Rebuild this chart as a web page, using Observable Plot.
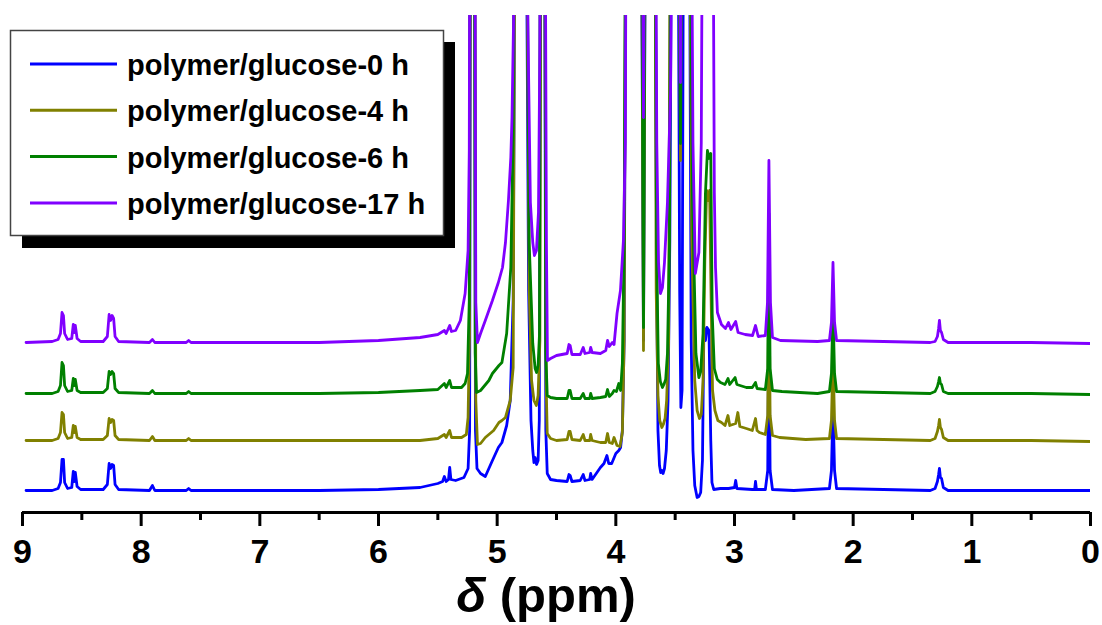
<!DOCTYPE html>
<html><head><meta charset="utf-8">
<script src="https://cdn.jsdelivr.net/npm/d3@7"></script>
<script src="https://cdn.jsdelivr.net/npm/@observablehq/plot@0.6"></script>
<style>body{margin:0;background:#fff;} #chart{width:1102px;height:625px;}</style>
</head><body><div id="chart"></div><script>
// Series metadata
const seriesNames = ["polymer/glucose-0 h", "polymer/glucose-4 h", "polymer/glucose-6 h", "polymer/glucose-17 h"];
const seriesColors = ["#0000FF", "#808000", "#008000", "#8000FF"];
const seriesOffsets = [22, 72, 119, 170]; // vertical stacking offset of each spectrum (intensity units)
const majorTicks = [9, 8, 7, 6, 5, 4, 3, 2, 1, 0];
const minorTicks = [8.5, 7.5, 6.5, 5.5, 4.5, 3.5, 2.5, 1.5, 0.5];

// Spectra: [chemical shift (ppm), intensity above own baseline]; 600 = off scale
const blue = [
[8.97,0],[8.75,0],[8.70,2],[8.68,8],[8.667,31],[8.655,31],[8.645,8],[8.62,2],[8.585,3],[8.572,19],[8.563,9],[8.555,18],[8.54,4],[8.51,1],
[8.32,1],[8.285,6],[8.27,27],[8.258,22],[8.245,26],[8.232,25],[8.22,6],[8.19,1],
[7.93,0],[7.905,5],[7.885,0],[7.62,0],[7.60,2],[7.58,0],
[6.5,0],[6.0,1],[5.65,3],[5.50,7],[5.46,9],[5.445,14],[5.43,9],[5.41,11],[5.40,23],[5.39,11],[5.35,10],[5.28,13],[5.245,22],[5.232,60],[5.225,600],
[5.19,600],[5.183,60],[5.17,22],[5.14,17],[5.10,14],[5.04,30],[4.99,43],[4.96,48],[4.92,65],[4.89,90],[4.865,190],[4.85,600],
[4.755,600],[4.735,200],[4.715,70],[4.70,40],[4.69,28],[4.68,33],[4.668,26],[4.655,30],[4.645,70],[4.635,600],
[4.60,600],[4.59,60],[4.578,17],[4.55,11],[4.50,10],[4.41,9],[4.395,16],[4.385,15],[4.37,9],[4.30,10],[4.275,16],[4.26,10],[4.22,11],[4.212,17],[4.20,11],[4.13,23],[4.10,27],[4.075,35],[4.06,27],[4.035,27],[4.00,37],[3.975,40],[3.96,43],[3.945,60],[3.93,150],[3.915,600],
[3.785,600],[3.767,150],[3.75,600],
[3.67,600],[3.655,200],[3.645,60],[3.632,25],[3.622,18],[3.612,20],[3.602,17],[3.59,22],[3.575,40],[3.56,90],[3.545,250],[3.53,600],
[3.475,600],[3.462,200],[3.452,83],[3.442,100],[3.43,600],
[3.38,600],[3.365,150],[3.35,40],[3.335,5],[3.315,-7],[3.30,-6],[3.285,-2],[3.27,30],[3.258,163],[3.245,150],[3.232,163],[3.215,160],[3.20,50],[3.19,8],[3.175,1],[3.12,2],[3.05,2],[3.00,3],[2.99,10],[2.98,2],[2.85,1],[2.83,1],[2.823,9],[2.815,1],[2.74,1],[2.72,20],[2.71,180],[2.70,20],[2.68,1],[2.50,0],
[2.2,2],[2.183,20],[2.17,85],[2.157,20],[2.14,2],
[1.35,0],[1.31,2],[1.29,9],[1.28,16],[1.273,22],[1.265,13],[1.255,12],[1.24,3],[1.20,0],[0.5,0],[0,0]
];
const olive = [
[8.97,0],[8.75,0],[8.70,2],[8.68,8],[8.667,28],[8.655,26],[8.645,8],[8.62,2],[8.585,3],[8.572,15],[8.563,8],[8.555,14],[8.54,3],[8.51,1],
[8.32,1],[8.285,5],[8.27,22],[8.258,18],[8.245,21],[8.232,20],[8.22,5],[8.19,1],
[7.93,0],[7.905,4],[7.885,0],[7.62,0],[7.60,2],[7.58,0],
[6.5,0],[6.0,0],[5.65,0],[5.50,2],[5.445,6],[5.43,3],[5.40,10],[5.385,3],[5.30,3],[5.26,6],[5.245,23],[5.233,107],[5.225,600],
[5.19,600],[5.18,40],[5.166,-4],[5.14,-3],[5.10,3],[5.03,10],[4.985,18],[4.96,20],[4.93,23],[4.89,40],[4.865,73],[4.85,600],
[4.755,600],[4.73,150],[4.71,60],[4.69,40],[4.67,35],[4.655,45],[4.64,100],[4.632,600],
[4.60,600],[4.588,60],[4.578,7],[4.55,2],[4.50,0],[4.41,1],[4.395,9],[4.385,9],[4.37,1],[4.30,0],[4.275,6],[4.26,0],[4.22,0],[4.212,6],[4.20,0],[4.13,-2],[4.085,-2],[4.07,7],[4.055,-2],[4.03,-3],[4.015,3],[3.99,-5],[3.965,-6],[3.945,8],[3.93,100],[3.915,600],
[3.785,600],[3.767,90],[3.75,600],
[3.67,600],[3.66,150],[3.645,45],[3.63,20],[3.612,13],[3.60,16],[3.585,22],[3.572,40],[3.555,100],[3.54,600],
[3.47,600],[3.455,280],[3.445,600],
[3.38,600],[3.36,200],[3.335,60],[3.315,30],[3.295,22],[3.28,26],[3.265,60],[3.25,180],[3.235,250],[3.222,240],[3.21,250],[3.198,150],[3.185,50],[3.165,30],[3.14,20],[3.11,18],[3.08,15],[3.055,25],[3.04,15],[2.99,17],[2.972,28],[2.955,14],[2.90,12],[2.85,10],[2.823,22],[2.81,10],[2.79,8],[2.74,6],[2.72,25],[2.71,180],[2.70,25],[2.68,5],[2.62,3],[2.4,1],
[2.2,2],[2.183,20],[2.17,85],[2.157,20],[2.14,2],
[1.35,0],[1.31,2],[1.29,9],[1.28,15],[1.273,21],[1.265,13],[1.255,11],[1.24,3],[1.20,0],[0.5,0],[0,-1]
];
const green = [
[8.97,0],[8.75,0],[8.70,2],[8.68,8],[8.667,31],[8.655,28],[8.645,8],[8.62,2],[8.585,3],[8.572,15],[8.563,8],[8.555,14],[8.54,3],[8.51,1],
[8.32,1],[8.285,5],[8.27,22],[8.258,19],[8.245,22],[8.232,20],[8.22,5],[8.19,1],
[7.93,0],[7.905,3],[7.885,0],[7.62,0],[7.60,2],[7.58,0],
[6.5,0],[6.0,1],[5.65,3],[5.50,4],[5.445,10],[5.43,6],[5.40,13],[5.385,6],[5.30,6],[5.27,10],[5.25,20],[5.235,93],[5.228,600],
[5.192,600],[5.185,40],[5.174,1],[5.14,3],[5.07,13],[5.04,20],[4.985,28],[4.96,31],[4.92,60],[4.885,126],[4.865,260],[4.855,600],
[4.755,600],[4.73,150],[4.70,50],[4.68,25],[4.668,21],[4.655,28],[4.643,60],[4.635,600],
[4.60,600],[4.59,40],[4.578,-2],[4.55,-4],[4.50,-5],[4.41,-5],[4.395,3],[4.385,3],[4.37,-5],[4.30,-5],[4.275,0],[4.26,-5],[4.22,-5],[4.212,0],[4.20,-5],[4.13,-4],[4.085,-3],[4.07,4],[4.055,-3],[4.03,0],[4.015,3],[3.995,2],[3.975,10],[3.96,3],[3.945,30],[3.93,150],[3.915,600],
[3.785,600],[3.767,66],[3.75,600],
[3.67,600],[3.657,150],[3.642,30],[3.625,12],[3.607,6],[3.595,9],[3.58,14],[3.565,40],[3.548,150],[3.535,600],
[3.47,600],[3.455,250],[3.445,600],
[3.38,600],[3.355,200],[3.325,40],[3.30,16],[3.285,22],[3.265,60],[3.245,200],[3.228,243],[3.215,235],[3.20,240],[3.188,80],[3.17,25],[3.145,14],[3.118,11],[3.08,9],[3.055,15],[3.04,9],[2.995,16],[2.98,9],[2.90,6],[2.85,6],[2.823,11],[2.81,5],[2.74,4],[2.72,25],[2.71,180],[2.70,25],[2.68,3],[2.6,2],[2.3,0],
[2.2,2],[2.183,20],[2.17,85],[2.157,20],[2.14,2],
[1.35,0],[1.31,2],[1.29,7],[1.28,12],[1.273,16],[1.265,10],[1.255,9],[1.24,2],[1.20,0],[0.5,0],[0,-1]
];
const purple = [
[8.97,0],[8.75,1],[8.70,3],[8.68,9],[8.667,30],[8.655,27],[8.645,9],[8.62,3],[8.585,4],[8.572,18],[8.563,10],[8.555,17],[8.54,4],[8.51,1],
[8.32,1],[8.285,6],[8.27,28],[8.258,22],[8.245,27],[8.232,24],[8.22,6],[8.19,1],
[7.93,0],[7.905,3],[7.885,0],[7.62,0],[7.60,2],[7.58,0],
[6.5,0],[6.0,2],[5.65,5],[5.50,8],[5.445,12],[5.43,9],[5.40,17],[5.385,11],[5.35,12],[5.31,22],[5.27,49],[5.245,92],[5.235,192],[5.228,600],
[5.19,600],[5.18,40],[5.166,0],[5.14,9],[5.10,22],[5.04,42],[4.99,60],[4.955,75],[4.93,100],[4.905,142],[4.885,185],[4.875,225],[4.862,320],[4.855,600],
[4.755,600],[4.745,350],[4.72,140],[4.70,100],[4.686,87],[4.669,92],[4.652,130],[4.64,300],[4.632,600],
[4.60,600],[4.585,100],[4.576,-18],[4.55,-16],[4.50,-13],[4.41,-11],[4.395,-2],[4.385,-3],[4.37,-12],[4.30,-12],[4.275,-5],[4.26,-11],[4.22,-10],[4.212,-5],[4.20,-10],[4.13,-11],[4.085,-8],[4.07,2],[4.055,-4],[4.03,0],[4.015,-2],[3.99,29],[3.961,52],[3.936,102],[3.92,200],[3.91,600],
[3.785,600],[3.767,225],[3.75,600],
[3.67,600],[3.655,200],[3.64,80],[3.624,49],[3.607,55],[3.59,80],[3.565,140],[3.539,250],[3.52,600],
[3.47,600],[3.455,260],[3.445,600],
[3.37,600],[3.35,200],[3.33,69],[3.30,90],[3.28,200],[3.265,600],
[3.186,600],[3.17,150],[3.16,75],[3.144,30],[3.11,18],[3.076,14],[3.051,20],[3.03,13],[2.99,21],[2.97,10],[2.91,8],[2.848,7],[2.823,17],[2.80,6],[2.74,7],[2.722,40],[2.71,182],[2.697,40],[2.68,5],[2.613,2],[2.3,1],
[2.2,2],[2.183,20],[2.17,80],[2.157,20],[2.14,2],
[1.35,0],[1.31,1],[1.29,6],[1.28,14],[1.273,22],[1.265,12],[1.255,10],[1.24,3],[1.20,0],[0.5,0],[0,-1]
];
const spectra = [blue, olive, green, purple];

const FONT = "'Liberation Sans', Arial, Helvetica, sans-serif";

const lineMarks = spectra.map((s, i) => Plot.line(s, {
  x: d => d[0],
  y: d => d[1] + seriesOffsets[i],
  stroke: seriesColors[i],
  strokeWidth: 2.8,
  strokeLinejoin: "round",
  clip: true
}));

const chart = Plot.plot({
  width: 1102,
  height: 625,
  marginLeft: 22,
  marginRight: 12,
  marginTop: 15,
  marginBottom: 113,
  style: {fontFamily: FONT, background: "white", color: "black", overflow: "visible"},
  x: {domain: [9, 0]},
  y: {domain: [0, 497], axis: null},
  marks: [
    ...lineMarks,
    Plot.axisX({ticks: minorTicks, tickSize: 8, strokeWidth: 3, fill: "none", label: null}),
    Plot.axisX({ticks: majorTicks, tickSize: 14, strokeWidth: 3, tickPadding: 12, fontSize: 34, fontWeight: "bold", label: null, tickFormat: d => String(d)}),
    Plot.ruleY([0], {stroke: "black", strokeWidth: 3})
  ]
});
document.getElementById("chart").appendChild(chart);

const svg = d3.select(chart);
// Axis title
const title = svg.append("text")
  .attr("x", 546).attr("y", 612)
  .attr("text-anchor", "middle")
  .style("font-family", FONT).style("font-weight", "bold").style("font-size", "49px")
  .attr("fill", "black");
title.append("tspan").attr("font-style", "italic").text("δ");
title.append("tspan").text(" (ppm)");

// Legend
const lg = svg.append("g");
lg.append("rect").attr("x", 22).attr("y", 42).attr("width", 433).attr("height", 206).attr("fill", "black");
lg.append("rect").attr("x", 10.5).attr("y", 30.5).attr("width", 433).attr("height", 205)
  .attr("fill", "white").attr("stroke", "#444").attr("stroke-width", 1.5);
seriesNames.forEach((name, i) => {
  const y = 64 + i * 46.3;
  lg.append("line").attr("x1", 30).attr("x2", 117).attr("y1", y).attr("y2", y)
    .attr("stroke", seriesColors[i]).attr("stroke-width", 3);
  lg.append("text").attr("x", 127).attr("y", y + 11)
    .attr("text-anchor", "start")
    .style("font-family", FONT).style("font-weight", "bold").style("font-size", "29px")
    .attr("fill", "black").text(name);
});
</script></body></html>
